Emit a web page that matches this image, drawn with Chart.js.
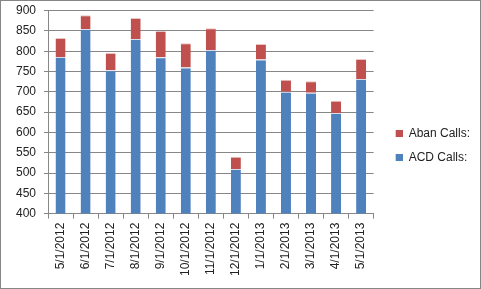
<!DOCTYPE html>
<html>
<head>
<meta charset="utf-8">
<script src="https://cdn.jsdelivr.net/npm/chart.js@4/dist/chart.umd.min.js"></script>
<style>
  html, body { margin: 0; padding: 0; background: #fff; }
  #wrap { width: 481px; height: 289px; box-sizing: border-box; border: 1px solid #868686; position: relative; }
  #c { display: block; }
</style>
</head>
<body>
<div id="wrap"><canvas id="c" width="479" height="287"></canvas></div>
<script>
const categories = ['5/1/2012','6/1/2012','7/1/2012','8/1/2012','9/1/2012','10/1/2012','11/1/2012','12/1/2012','1/1/2013','2/1/2013','3/1/2013','4/1/2013','5/1/2013'];
const acdCalls  = [786, 855, 753, 830, 785, 760, 803, 510, 780, 700, 698, 648, 732];
const abanCalls = [ 47,  34,  43,  52,  65,  60,  54,  30,  38,  30,  28,  30,  49];
const yTicks = [400, 450, 500, 550, 600, 650, 700, 750, 800, 850, 900];

const font = { family: "'Liberation Sans', Arial, sans-serif", size: 12 };
const grey = '#878787';
const blue = '#4F81BD';
const red = '#C0504D';

// legend swatch: a 7x7 square placed at the right of a 17px wide transparent strip
function swatch(color) {
  const cv = document.createElement('canvas');
  cv.width = 17; cv.height = 7;
  const g = cv.getContext('2d');
  g.fillStyle = color;
  g.fillRect(10, 0, 7, 7);
  return cv;
}
const swatches = { 'ACD Calls:': swatch(blue), 'Aban Calls:': swatch(red) };

new Chart(document.getElementById('c'), {
  type: 'bar',
  data: {
    labels: categories,
    datasets: [
      { label: 'ACD Calls:', data: acdCalls, backgroundColor: blue,
        borderColor: '#d3ddec', borderWidth: { top: 1, left: 0, right: 0, bottom: 0 }, borderSkipped: false },
      { label: 'Aban Calls:', data: abanCalls, backgroundColor: red,
        borderColor: '#e8c3c2', borderWidth: { top: 1, left: 0, right: 0, bottom: 0 }, borderSkipped: false }
    ]
  },
  options: {
    responsive: false,
    animation: false,
    layout: { padding: { left: 7, top: 9.7, right: 0, bottom: 8 } },
    datasets: { bar: { categoryPercentage: 0.8, barPercentage: 0.5 } },
    plugins: {
      legend: {
        position: 'right',
        reverse: true,
        labels: {
          usePointStyle: true, pointStyleWidth: 17, boxHeight: 7, padding: 12, color: '#222', font: font,
          generateLabels: (chart) => {
            const items = Chart.defaults.plugins.legend.labels.generateLabels(chart);
            items.forEach(it => { it.pointStyle = swatches[it.text]; });
            return items;
          }
        }
      },
      tooltip: { enabled: false }
    },
    scales: {
      x: {
        stacked: true,
        grid: { display: true, drawOnChartArea: false, drawTicks: true, tickLength: 5, color: grey, offset: true },
        border: { display: true, color: grey },
        ticks: { minRotation: 90, maxRotation: 90, autoSkip: false, padding: 4, color: '#222', font: font }
      },
      y: {
        stacked: true,
        min: 400, max: 900,
        afterBuildTicks: (s) => { s.ticks = yTicks.map(v => ({ value: v })); },
        afterFit: (s) => { s.paddingTop = 0; s.paddingBottom = 0; },
        grid: { color: grey, tickLength: 4 },
        border: { display: true, color: grey },
        ticks: { padding: 8, color: '#222', font: font }
      }
    }
  }
});
</script>
</body>
</html>
